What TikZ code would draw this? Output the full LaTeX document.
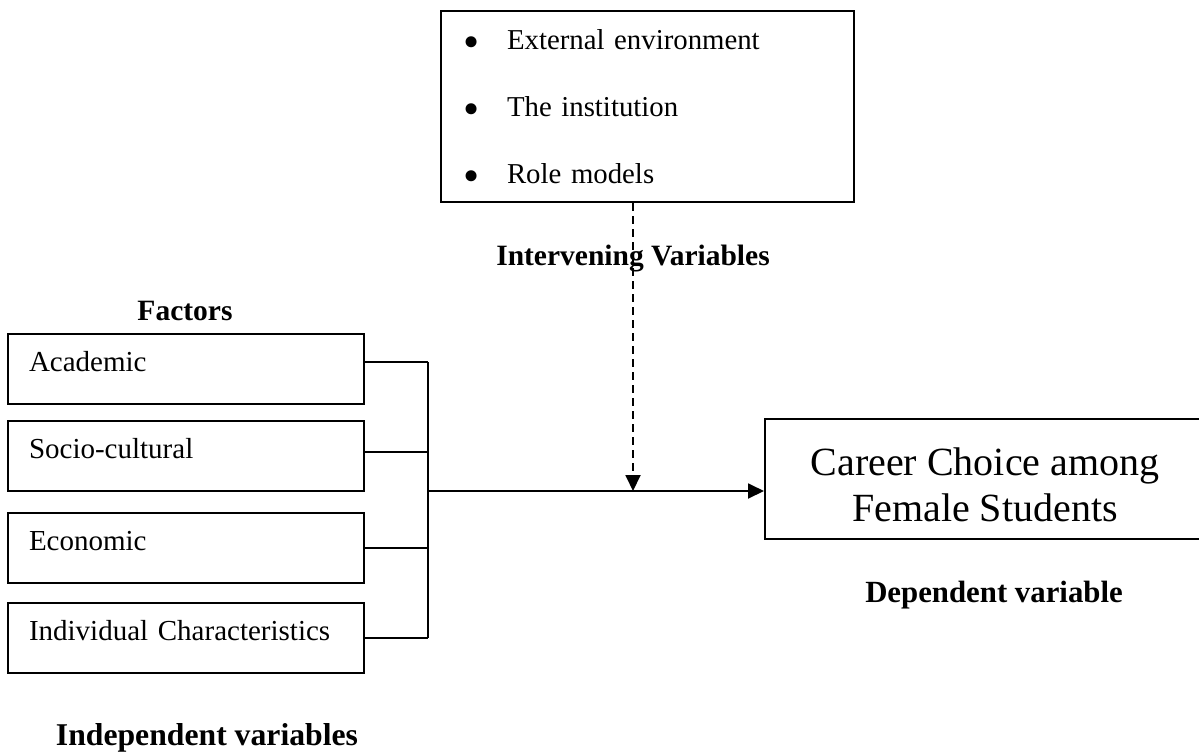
\documentclass[tikz,border=0pt]{standalone}
\usepackage{fontspec}
\setmainfont{Liberation Serif}
\usetikzlibrary{arrows.meta}
\newcommand{\bigdot}{\makebox[44pt][l]{\smash{\raisebox{-8pt}{\scalebox{1.6}{•}}}}}
\begin{document}
\begin{tikzpicture}[x=1pt,y=-1pt,
  box/.style={draw, line width=2pt, inner sep=0pt},
  factorbox/.style={box, minimum width=356pt, minimum height=70pt, text width=314pt, align=left, inner xsep=21pt, text height=15pt, text depth=11pt, font=\fontsize{29}{35}\selectfont},
  heading/.style={anchor=base, font=\bfseries\fontsize{29.5}{36}\selectfont},
  link/.style={line width=1.9pt},
  tip/.style={-{Triangle[length=16pt,width=15pt]}}
]
\useasboundingbox (0,0) rectangle (1199,753);
\clip (0,0) rectangle (1199,753);

\node[box, minimum width=413pt, minimum height=191pt, text width=369pt, inner xsep=22pt, align=left, font=\fontsize{28.8}{67}\selectfont] (inter) at (647.5,106.5)
  {\bigdot External environment\\ \bigdot The institution\\ \bigdot Role models};

\node[factorbox] (acad) at (186,369) {Academic};
\node[factorbox] (socio) at (186,456) {Socio-cultural};
\node[factorbox] (econ) at (186,548) {Economic};
\node[factorbox] (indiv) at (186,638) {Individual Characteristics};

\node[box, minimum width=440pt, minimum height=120pt, align=center, font=\fontsize{40}{46}\selectfont] (career) at (985,479)
  {\rule{0pt}{39pt}Career Choice among\\Female Students};

\node[heading] (ivlabel) at (633,265) {Intervening Variables};
\node[heading] (factors) at (185,320) {Factors};
\node[heading, font=\bfseries\fontsize{30.8}{36}\selectfont] (dep) at (994,602) {Dependent variable};
\node[heading, font=\bfseries\fontsize{31.7}{36}\selectfont] (indep) at (207,745) {Independent variables};

\coordinate (join) at (428,491);
\coordinate (tap) at (633,491);

\draw[link] ([yshift=7pt]acad.east) -- ([yshift=7pt]acad.east -| join);
\draw[link] ([yshift=4pt]socio.east) -- ([yshift=4pt]socio.east -| join);
\draw[link] (econ.east) -- (econ.east -| join);
\draw[link] (indiv.east) -- (indiv.east -| join);
\draw[link] ([yshift=7pt]acad.east -| join) -- (indiv.east -| join);
\draw[link, tip] (join) -- (join -| career.west);
\draw[link, dash pattern=on 8pt off 5pt, tip] (tap |- inter.south) -- (tap);
\end{tikzpicture}
\end{document}
